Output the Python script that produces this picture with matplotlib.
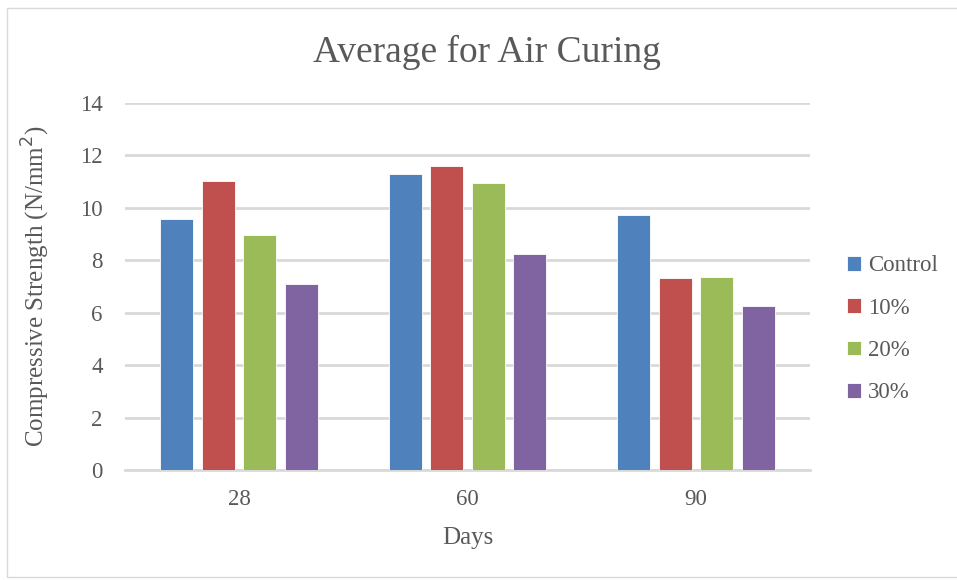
import numpy as np
import matplotlib
matplotlib.use("Agg")
import matplotlib.pyplot as plt
from matplotlib.patches import Rectangle

plt.rcParams['font.family'] = ['Liberation Serif', 'DejaVu Serif']

# data
days = ["28", "60", "90"]
series = ["Control", "10%", "20%", "30%"]
control = [9.57, 11.29, 9.71]
p10 = [11.03, 11.58, 7.32]
p20 = [8.95, 10.96, 7.37]
p30 = [7.09, 8.25, 6.24]
colors = ["#4F81BD", "#C0504D", "#9BBB59", "#8064A2"]

txt = "#595959"
grid = "#D9D9D9"

fig = plt.figure(figsize=(9.57, 5.8), dpi=100)
ax = fig.add_axes([0.1306, 0.1897, 0.7158, 0.6327])

x = np.arange(len(days))
width = 0.145
pitch = 0.182
for i, (vals, name) in enumerate(zip([control, p10, p20, p30], series)):
    ax.bar(x + (i - 1.5) * pitch, vals, width, color=colors[i], label=name,
           edgecolor="white", linewidth=0.6, zorder=3)

ax.set_xlim(-0.5, 2.5)
ax.set_ylim(0, 14)
ax.set_yticks(range(0, 15, 2))
ax.set_xticks(x)
ax.set_xticklabels(days)
ax.yaxis.grid(True, color=grid, linewidth=2, zorder=0)
ax.set_axisbelow(True)
for s in ["top", "right", "left"]:
    ax.spines[s].set_visible(False)
ax.spines["bottom"].set_color(grid)
ax.spines["bottom"].set_linewidth(2)
ax.tick_params(length=0, labelsize=16.5, colors=txt)
ax.tick_params(axis="x", pad=14)
ax.tick_params(axis="y", pad=16)

ax.set_xlabel("Days", fontsize=18, color=txt, labelpad=12)
ax.set_ylabel("Compressive Strength (N/mm$^2$)", fontsize=18, color=txt, labelpad=20)
fig.text(0.509, 0.91, "Average for Air Curing", fontsize=27, color=txt,
         ha="center", va="center")

leg = fig.legend(loc="center left", bbox_to_anchor=(0.864, 0.432), frameon=False,
                 fontsize=16.5, handlelength=0.6, handleheight=0.6,
                 handletextpad=0.3, labelspacing=0.93, labelcolor=txt)

fig.add_artist(Rectangle((7 / 957, 3 / 580), 1.0, 569 / 580, transform=fig.transFigure,
                         fill=False, edgecolor="#D9D9D9", linewidth=1))

fig.savefig("out.png", dpi=100)
